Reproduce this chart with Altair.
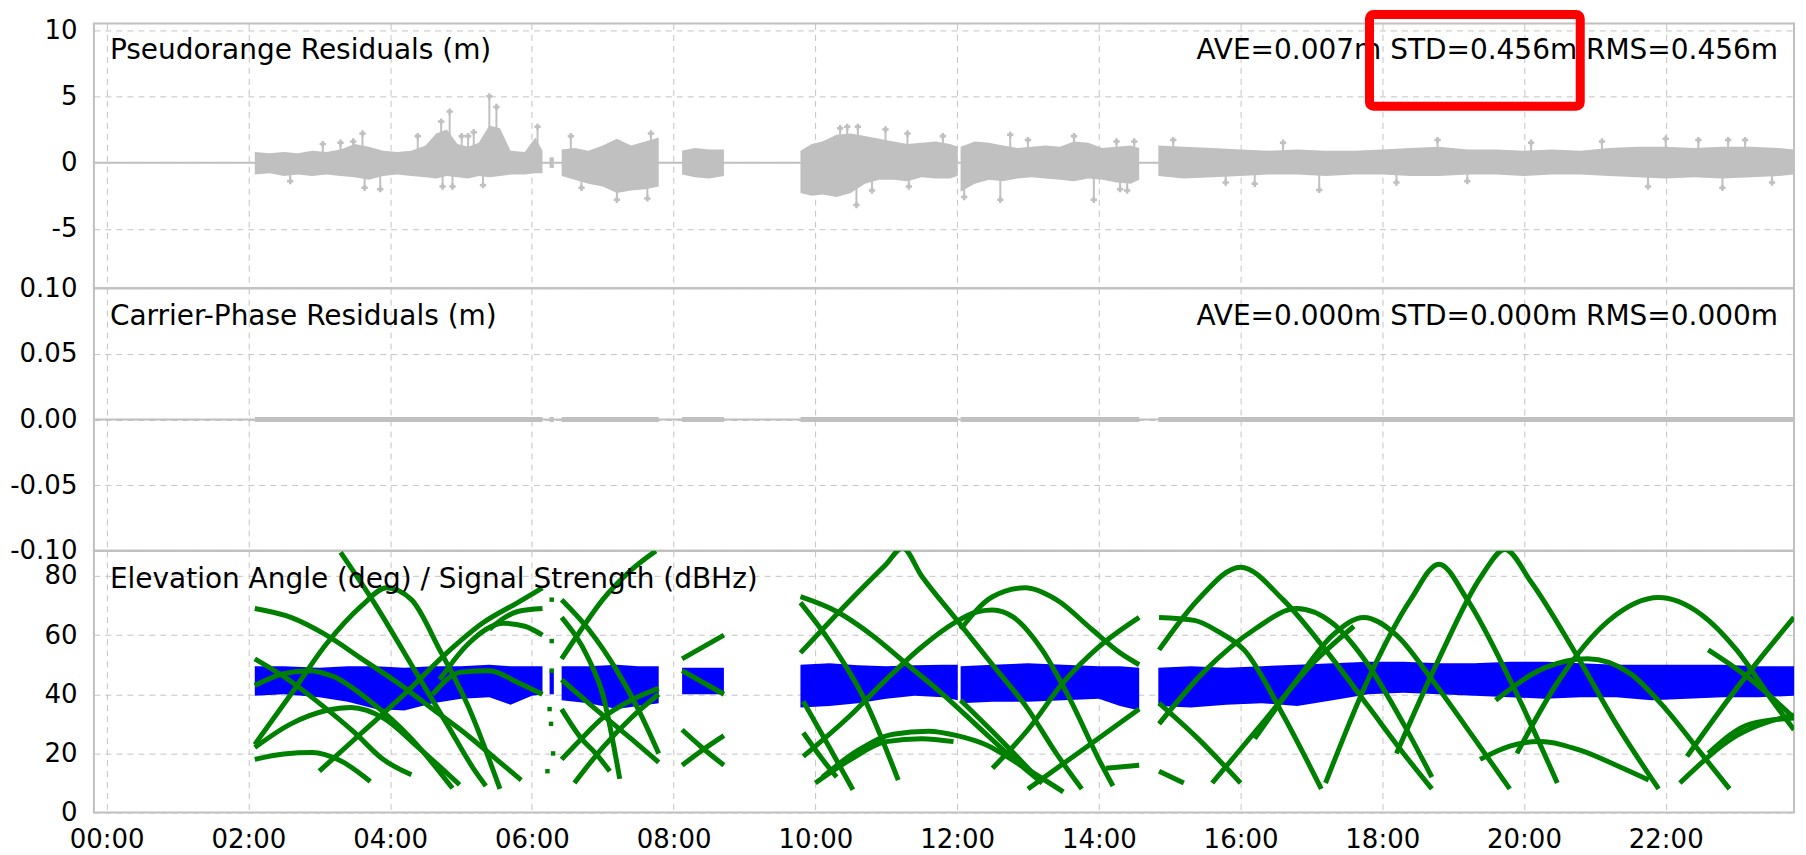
import altair as alt
import pandas as pd

FONT = "DejaVu Sans"

# ---------------- time axis (hours of day) ----------------
x_ticks = list(range(0, 24, 2))
x_domain = [-0.18, 23.81]

# data segments (hours)
seg_start = [2.09, 6.25, 6.42, 8.12, 9.79, 12.05, 14.84]
seg_end = [6.15, 6.31, 7.79, 8.71, 12.01, 14.57, 23.81]

# ---------------- pseudorange residual envelope (m) ----------------
pr_t = {
    "A": [2.09, 2.3, 2.5, 2.7, 2.9, 3.1, 3.3, 3.5, 3.7, 3.9, 4.1, 4.3, 4.5, 4.65, 4.8, 4.95, 5.1, 5.25, 5.4, 5.55, 5.7, 5.9, 6.05, 6.15],
    "a": [6.25, 6.31],
    "B": [6.42, 6.6, 6.8, 7.0, 7.2, 7.4, 7.6, 7.79],
    "C": [8.12, 8.3, 8.5, 8.71],
    "D": [9.79, 9.95, 10.1, 10.3, 10.5, 10.7, 10.9, 11.1, 11.3, 11.5, 11.7, 11.9, 12.01],
    "E": [12.05, 12.25, 12.45, 12.65, 12.85, 13.05, 13.25, 13.45, 13.65, 13.85, 14.05, 14.25, 14.45, 14.57],
    "F": [14.84, 15.2, 15.6, 16.0, 16.4, 16.8, 17.2, 17.6, 18.0, 18.4, 18.8, 19.2, 19.6, 20.0, 20.4, 20.8, 21.2, 21.6, 22.0, 22.4, 22.8, 23.2, 23.6, 23.81],
}
pr_hi = {
    "A": [0.8, 0.7, 0.8, 0.7, 0.9, 0.8, 1.0, 1.4, 1.2, 0.9, 0.8, 0.9, 1.3, 2.2, 2.5, 1.4, 1.2, 1.5, 2.8, 2.6, 0.9, 0.8, 1.9, 0.9],
    "a": [0.4, 0.4],
    "B": [1.0, 1.1, 0.9, 1.3, 1.8, 1.3, 1.6, 1.9],
    "C": [0.9, 1.1, 1.0, 1.0],
    "D": [0.9, 1.4, 1.6, 2.1, 2.2, 2.0, 1.8, 1.6, 1.4, 1.5, 1.6, 1.4, 1.2],
    "E": [1.2, 1.6, 1.5, 1.3, 1.1, 1.2, 1.3, 1.2, 1.6, 1.5, 1.1, 1.2, 1.3, 1.1],
    "F": [1.3, 1.2, 1.1, 1.0, 0.9, 1.0, 0.9, 0.9, 1.0, 1.1, 1.2, 1.0, 1.0, 0.9, 1.0, 0.9, 1.1, 1.2, 1.2, 1.1, 1.2, 1.2, 1.1, 1.0],
}
pr_lo = {
    "A": [-0.9, -0.8, -1.0, -0.9, -1.0, -0.9, -1.0, -1.1, -1.3, -1.0, -0.9, -1.0, -1.1, -1.2, -1.0, -1.1, -1.2, -1.0, -1.1, -1.0, -0.9, -0.9, -0.8, -0.8],
    "a": [-0.4, -0.4],
    "B": [-1.0, -1.3, -1.6, -1.8, -2.3, -2.1, -2.0, -1.8],
    "C": [-0.9, -1.1, -1.2, -1.0],
    "D": [-2.3, -2.5, -2.4, -2.6, -2.3, -1.6, -1.3, -1.3, -1.4, -1.1, -1.2, -1.2, -1.0],
    "E": [-2.2, -1.6, -1.3, -1.4, -1.2, -1.1, -1.2, -1.3, -1.4, -1.2, -1.3, -1.5, -1.6, -1.3],
    "F": [-1.0, -1.2, -1.1, -1.0, -0.9, -0.9, -1.0, -0.9, -0.9, -1.0, -1.0, -0.9, -0.9, -1.0, -0.9, -0.9, -1.0, -1.1, -1.2, -1.1, -1.2, -1.1, -1.0, -0.9],
}
# isolated outliers (+ markers)
spike_t = [2.59, 3.05, 3.3, 3.48, 3.61, 3.64, 3.86, 4.39, 4.72, 4.74, 4.84, 4.88, 5.01, 5.1, 5.18, 5.31, 5.40, 5.5, 6.08,
           6.55, 6.7, 7.2, 7.63, 7.68,
           10.35, 10.45, 10.58, 10.6, 10.8, 10.99, 11.3, 11.32, 11.8,
           12.1, 12.61, 12.75, 13.0, 13.65, 13.93, 14.25, 14.3, 14.4, 14.5,
           15.05, 15.79, 16.2, 16.6, 17.11, 18.2, 18.78, 19.2, 20.1, 21.1, 21.75, 22.0, 22.46, 22.8, 22.88, 23.12, 23.5]
spike_v = [-1.4, 1.4, 1.5, 1.6, 2.2, -1.9, -2.0, 2.0, 3.1, -1.8, 3.85, -1.8, 2.0, 2.0, 2.3, -1.7, 5.0, 4.2, 2.7,
           2.0, -1.9, -2.8, -2.7, 2.2,
           2.6, 2.7, -3.2, 2.7, -2.1, 2.5, 2.2, -1.8, 2.0,
           -2.6, -2.8, 2.1, 1.7, 2.0, -2.8, 1.6, -2.0, -2.1, 1.6,
           1.7, -1.5, -1.6, 1.5, -2.06, -1.5, 1.7, -1.4, 1.5, 1.6, -1.8, 1.8, 1.7, -1.9, 1.7, 1.7, -1.5]

# ---------------- signal strength envelope (dBHz) ----------------
snr_t = {
    "A": [2.09, 2.5, 3.0, 3.4, 3.8, 4.2, 4.6, 5.0, 5.4, 5.7, 6.0, 6.15],
    "a": [6.25, 6.31],
    "B": [6.42, 6.8, 7.2, 7.5, 7.79],
    "C": [8.12, 8.4, 8.71],
    "D": [9.79, 10.2, 10.6, 11.0, 11.4, 11.8, 12.01],
    "E": [12.05, 12.5, 13.0, 13.5, 14.0, 14.3, 14.57],
    "F": [14.84, 15.3, 15.8, 16.3, 16.8, 17.3, 17.8, 18.3, 18.8, 19.3, 19.8, 20.3, 20.8, 21.3, 21.8, 22.3, 22.8, 23.3, 23.81],
}
snr_hi = {
    "A": [49.5, 49.5, 49.0, 49.5, 49.5, 49.0, 49.5, 49.5, 50.0, 49.5, 49.5, 49.5],
    "a": [48, 48],
    "B": [49.5, 49.5, 50.0, 49.5, 49.5],
    "C": [49.0, 49.0, 49.0],
    "D": [50.0, 50.5, 49.8, 49.5, 49.8, 50.0, 50.0],
    "E": [49.5, 50.0, 50.5, 50.0, 49.5, 49.5, 49.0],
    "F": [49.0, 49.5, 49.0, 49.5, 50.0, 50.5, 51.0, 51.0, 50.5, 50.5, 51.0, 51.0, 50.5, 50.0, 50.0, 50.0, 50.0, 49.5, 49.5],
}
snr_lo = {
    "A": [39.5, 40.0, 39.0, 37.5, 35.0, 34.5, 37.0, 38.5, 39.0, 36.5, 39.5, 40.0],
    "a": [40, 40],
    "B": [38.0, 37.0, 35.0, 36.0, 37.0],
    "C": [40.0, 40.0, 40.0],
    "D": [35.5, 36.0, 37.0, 38.5, 39.5, 39.0, 38.0],
    "E": [37.0, 37.5, 37.5, 38.0, 38.5, 36.0, 34.5],
    "F": [36.0, 35.5, 36.5, 37.0, 36.0, 38.0, 40.0, 40.5, 40.0, 39.5, 39.0, 38.5, 39.0, 39.0, 38.0, 38.5, 39.0, 39.0, 39.5],
}

# ---------------- satellite elevation arcs (hour, deg) ----------------
elev_arcs = [
    # 02:05 - 06:09
    [(2.09, 69), (2.6, 66), (3.1, 60), (3.6, 52), (4.1, 44), (4.6, 35), (5.1, 26), (5.5, 18), (5.85, 11)],
    [(2.09, 52), (2.5, 46), (3.0, 37), (3.5, 27), (3.9, 18), (4.3, 12.8)],
    [(2.09, 23), (2.6, 40), (3.1, 57), (3.6, 70), (3.95, 76), (4.3, 72), (4.7, 55), (5.1, 36), (5.55, 8)],
    [(2.09, 18), (2.5, 19.8), (2.9, 20.3), (3.3, 17.5), (3.72, 10.5)],
    [(2.09, 22), (2.6, 30), (3.1, 34.5), (3.45, 35.5), (3.9, 32), (4.4, 22), (4.98, 9.4)],
    [(2.09, 43), (2.5, 47), (2.85, 48), (3.2, 46), (3.7, 38), (4.3, 25), (4.88, 8.2)],
    [(3.0, 14), (3.6, 27), (4.2, 40), (4.8, 54), (5.3, 64), (5.8, 71), (6.15, 76)],
    [(4.6, 40), (5.0, 47.5), (5.4, 48), (5.8, 44), (6.15, 40)],
    [(4.7, 45), (5.1, 57), (5.6, 64), (5.9, 63), (6.15, 60)],
    [(5.4, 62), (5.8, 68), (6.15, 69)],
    [(3.3, 88), (3.8, 70), (4.3, 50), (4.8, 30), (5.2, 14), (5.35, 9)],
    # 06:25 - 07:47
    [(6.42, 72), (6.8, 62), (7.2, 48), (7.5, 35), (7.79, 20)],
    [(6.42, 66), (6.8, 52), (7.0, 40), (7.24, 11.4)],
    [(6.42, 52), (6.7, 62), (7.0, 72), (7.4, 82), (7.75, 88.5)],
    [(6.42, 35), (6.7, 25), (6.9, 20), (7.1, 14)],
    [(6.42, 18), (6.7, 25), (7.0, 32), (7.4, 38), (7.79, 42)],
    [(6.6, 10), (7.0, 22), (7.4, 32), (7.79, 40)],
    [(6.42, 45), (6.9, 35), (7.4, 25), (7.79, 17)],
    # 08:07 - 08:43
    [(8.12, 52), (8.71, 60)],
    [(8.12, 48), (8.71, 40)],
    [(8.12, 28), (8.4, 22), (8.71, 16)],
    [(8.12, 16), (8.4, 21), (8.71, 26)],
    # 09:47 - 14:34
    [(9.79, 54), (10.5, 72), (11.0, 84), (11.23, 89.5), (11.5, 80), (12.0, 65), (12.5, 50), (13.0, 35), (13.4, 20), (13.76, 8)],
    [(9.79, 73), (10.3, 68), (10.8, 60), (11.3, 50), (11.8, 40), (12.3, 29), (12.8, 18), (13.2, 10)],
    [(9.79, 71), (10.2, 58), (10.7, 38), (11.17, 11)],
    [(9.83, 19), (10.5, 33), (11.0, 45), (11.5, 56), (11.95, 64), (12.3, 68), (12.5, 68.5), (12.8, 66), (13.2, 55), (13.6, 38), (14.0, 18), (14.2, 9)],
    [(10.1, 12), (10.6, 21), (11.1, 26.5), (11.6, 27.5), (12.0, 26), (12.4, 23), (12.9, 16), (13.5, 7)],
    [(10.0, 10), (10.5, 18), (11.0, 24), (11.5, 25), (11.95, 24)],
    [(9.83, 37.6), (10.2, 22), (10.53, 7.7)],
    [(9.83, 27), (10.1, 18), (10.3, 12)],
    [(12.05, 62), (12.5, 73), (12.96, 76), (13.4, 72), (13.9, 62), (14.3, 54), (14.57, 50)],
    [(12.5, 15), (13.0, 28), (13.5, 44), (14.0, 56), (14.57, 66)],
    [(13.0, 8), (13.7, 20), (14.57, 35)],
    [(14.1, 15), (14.57, 16)],
    [(12.05, 38), (12.6, 25), (13.2, 10)],
    # 14:50 - 23:49
    [(14.85, 55), (15.4, 72), (16.0, 83), (16.6, 72), (17.2, 55), (17.8, 36), (18.3, 20), (18.7, 8)],
    [(14.85, 66), (15.35, 65), (15.7, 61), (16.05, 55), (16.6, 33), (17.14, 8)],
    [(14.85, 30), (15.5, 48), (16.2, 62), (16.79, 69), (17.3, 64), (17.8, 50), (18.3, 30), (18.7, 12)],
    [(16.2, 25), (16.8, 45), (17.3, 60), (17.74, 66), (18.2, 60), (18.7, 45), (19.3, 25), (19.8, 8)],
    [(17.2, 10), (17.8, 45), (18.4, 72), (18.8, 84), (19.2, 72), (19.8, 45), (20.47, 10)],
    [(18.2, 20), (18.8, 52), (19.4, 80), (19.73, 89), (20.1, 78), (20.7, 55), (21.3, 30), (21.9, 8)],
    [(19.9, 20), (20.5, 45), (21.2, 65), (21.9, 72.7), (22.5, 67), (23.0, 55), (23.5, 38), (23.81, 28)],
    [(19.38, 18), (19.8, 22.5), (20.22, 24), (20.8, 21), (21.3, 16), (21.76, 11)],
    [(19.6, 38), (20.3, 49), (20.9, 52), (21.5, 47), (22.0, 35), (22.5, 20), (22.9, 8)],
    [(22.3, 19), (23.0, 42), (23.81, 66)],
    [(22.2, 10), (23.0, 26), (23.81, 33)],
    [(22.6, 20), (23.2, 30), (23.81, 32)],
    [(22.6, 55), (23.2, 45), (23.81, 32)],
    [(14.85, 37), (15.4, 25), (16.0, 10)],
    [(14.85, 14), (15.2, 10)],
    [(15.6, 10), (16.3, 30), (17.0, 50), (17.6, 63)],
]
# sparse elevation samples in the short gap after 06:09
elev_dot_t = [6.22, 6.25, 6.27, 6.28, 6.28, 6.28, 6.3]
elev_dot_v = [14, 35, 30, 72, 58, 48, 20]

# ---------------- text ----------------
titles = ["Pseudorange Residuals (m)", "Carrier-Phase Residuals (m)",
          "Elevation Angle (deg) / Signal Strength (dBHz)"]
stats = ["AVE=0.007m STD=0.456m RMS=0.456m", "AVE=0.000m STD=0.000m RMS=0.000m"]

# ---------------- frames ----------------
def band_frame(tt, hh, ll):
    rows = []
    for k in tt:
        for t, h, l in zip(tt[k], hh[k], ll[k]):
            rows.append({"seg": k, "t": t, "hi": h, "lo": l})
    return pd.DataFrame(rows)

pr_df = band_frame(pr_t, pr_hi, pr_lo)
snr_df = band_frame(snr_t, snr_hi, snr_lo)
spk_df = pd.DataFrame({"t": spike_t, "v": spike_v, "base": [0.0] * len(spike_t)})
seg_df = pd.DataFrame({"s": seg_start, "e": seg_end, "v": [0.0] * len(seg_start)})
arc_df = pd.DataFrame([{"arc": i, "o": j, "t": t, "v": v}
                       for i, arc in enumerate(elev_arcs) for j, (t, v) in enumerate(arc)])
dot_df = pd.DataFrame({"t": elev_dot_t, "v": elev_dot_v})
zero_df = pd.DataFrame({"v": [0.0]})

W = 1702
H1, H2, H3 = 265, 263, 262
GRID = "#c4c4c4"
GRAY = "#c0c0c0"


def xenc(field="t", labels=False):
    return alt.X(f"{field}:Q", title=None,
                 scale=alt.Scale(domain=x_domain, nice=False, zero=False),
                 axis=alt.Axis(values=x_ticks, labels=labels, ticks=False, domain=False,
                               grid=True, gridColor=GRID, gridDash=[6, 5], gridWidth=1,
                               labelFontSize=26, labelFont=FONT, labelColor="#000",
                               labelPadding=14, labelFlush=False, labelBaseline="top",
                               labelExpr="(datum.value < 10 ? '0' : '') + datum.value + ':00'"))


def yenc(field, domain, values, fmt):
    return alt.Y(f"{field}:Q", title=None,
                 scale=alt.Scale(domain=domain, nice=False, zero=False),
                 axis=alt.Axis(values=values, ticks=False, domain=False, grid=True,
                               gridColor=GRID, gridDash=[6, 5], gridWidth=1,
                               labelFontSize=26, labelFont=FONT, labelColor="#000",
                               labelPadding=17, minExtent=85, maxExtent=85,
                               labelExpr=f"replace(format(datum.value, '{fmt}'), '\u2212', '-')"))


def title_layer(text, pos_y):
    return alt.Chart(pd.DataFrame({"label": [text]})).mark_text(
        align="left", baseline="middle", font=FONT, fontSize=28, color="#000"
    ).encode(x=alt.value(16), y=alt.value(pos_y), text="label:N")


def stats_layer(text, pos_y):
    return alt.Chart(pd.DataFrame({"label": [text]})).mark_text(
        align="right", baseline="middle", font=FONT, fontSize=28, color="#000"
    ).encode(x=alt.value(1686), y=alt.value(pos_y), text="label:N")


# ---- panel 1: pseudorange residuals ----
d1, v1, f1 = [-9.47, 10.5], [-5, 0, 5, 10], "d"
p1 = alt.layer(
    alt.Chart(zero_df).mark_rule(color=GRAY, strokeWidth=2).encode(y=yenc("v", d1, v1, f1)),
    alt.Chart(pr_df).mark_area(color=GRAY, opacity=1).encode(
        x=xenc(), y=yenc("lo", d1, v1, f1), y2="hi:Q", detail="seg:N"),
    alt.Chart(spk_df).mark_rule(color=GRAY, strokeWidth=2).encode(
        x=xenc(), y=yenc("base", d1, v1, f1), y2="v:Q"),
    alt.Chart(spk_df).mark_point(shape="cross", filled=True, color=GRAY, size=40, opacity=1).encode(
        x=xenc(), y=yenc("v", d1, v1, f1)),
    title_layer(titles[0], 28),
    stats_layer(stats[0], 28),
    alt.Chart(zero_df).mark_rect(fillOpacity=0, stroke="#ff0000", strokeWidth=9, cornerRadius=4).encode(
        x=alt.value(1277), x2=alt.value(1488), y=alt.value(-9), y2=alt.value(83)),
).properties(width=W, height=H1)

# ---- panel 2: carrier-phase residuals ----
d2, v2, f2 = [-0.1, 0.1], [-0.1, -0.05, 0, 0.05, 0.1], ".2f"
p2 = alt.layer(
    alt.Chart(zero_df).mark_rule(color=GRAY, strokeWidth=2).encode(y=yenc("v", d2, v2, f2)),
    alt.Chart(seg_df).mark_rule(color=GRAY, strokeWidth=5).encode(
        x=xenc("s"), x2="e:Q", y=yenc("v", d2, v2, f2)),
    title_layer(titles[1], 29),
    stats_layer(stats[1], 29),
).properties(width=W, height=H2)

# ---- panel 3: elevation / signal strength ----
d3, v3, f3 = [0, 88.5], [0, 20, 40, 60, 80], "d"
p3 = alt.layer(
    alt.Chart(snr_df).mark_area(color="#0000ff", opacity=1).encode(
        x=xenc(labels=True), y=yenc("lo", d3, v3, f3), y2="hi:Q", detail="seg:N"),
    alt.Chart(arc_df).mark_line(color="#008000", strokeWidth=5, clip=True,
                                interpolate="monotone").encode(
        x=xenc(labels=True), y=yenc("v", d3, v3, f3), detail="arc:N", order="o:Q"),
    alt.Chart(dot_df).mark_point(shape="square", filled=True, color="#008000", size=20, opacity=1).encode(
        x=xenc(labels=True), y=yenc("v", d3, v3, f3)),
    title_layer(titles[2], 29),
).properties(width=W, height=H3)

chart = alt.vconcat(p1, p2, p3, spacing=0, bounds="flush").configure_view(
    stroke=GRAY, strokeWidth=2
).properties(
    padding={"left": 0, "top": 0, "right": 0, "bottom": 0}
)

chart.save("out.html", embed_options={"renderer": "svg", "actions": False})
